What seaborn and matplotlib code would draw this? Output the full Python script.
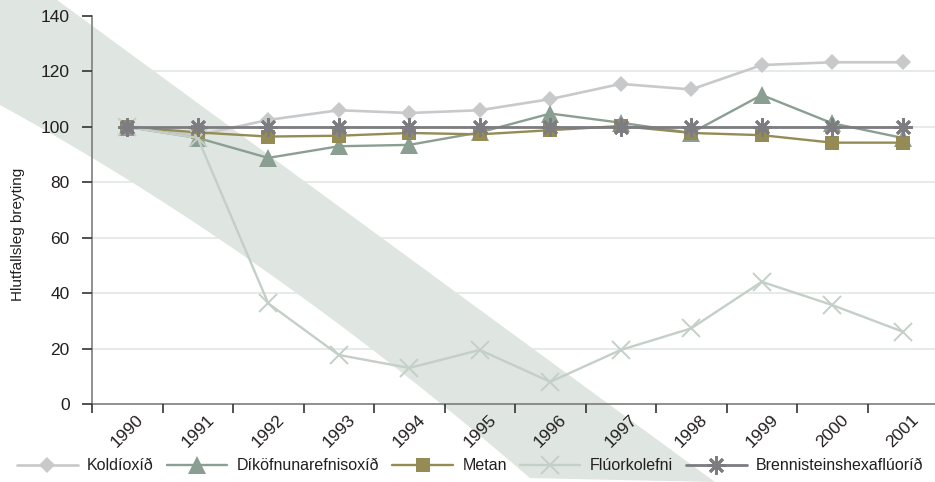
import numpy as np
import pandas as pd
import matplotlib
matplotlib.use("Agg")
import matplotlib.pyplot as plt
from matplotlib.patches import Polygon
import seaborn as sns

# ---- data -------------------------------------------------------------
years = [1990, 1991, 1992, 1993, 1994, 1995, 1996, 1997, 1998, 1999, 2000, 2001]
koldioxid = [100, 97, 102.5, 106, 105, 106, 110, 115.5, 113.5, 122.3, 123.3, 123.3]
dikofnunarefnisoxid = [100, 96, 88.8, 93, 93.5, 98, 104.8, 101.5, 97.8, 111.5, 101.3, 96]
metan = [100, 98, 96.5, 96.8, 97.8, 97.3, 98.8, 100.3, 97.8, 97, 94.3, 94.3]
fluorkolefni = [100, 96, 36.3, 17.7, 13, 19.5, 8, 19.5, 27.3, 44.1, 35.7, 26.1]
brennisteinshexafluorid = [100, 100, 100, 100, 100, 100, 100, 100, 100, 100, 100, 100]

series_names = ["Koldíoxíð", "Díköfnunarefnisoxíð", "Metan", "Flúorkolefni",
                "Brennisteinshexaflúoríð"]
y_ticks = [0, 20, 40, 60, 80, 100, 120, 140]
y_label = "Hlutfallsleg breyting"

df = pd.DataFrame({
    "ár": years * 5,
    "gildi": koldioxid + dikofnunarefnisoxid + metan + fluorkolefni + brennisteinshexafluorid,
    "flokkur": [n for n in series_names for _ in years],
})

# ---- styling ----------------------------------------------------------
sns.set_theme(style="white")
plt.rcParams["font.family"] = ["Liberation Sans", "DejaVu Sans"]
text_color = "#231f20"

styles = {
    "Koldíoxíð": dict(color="#c8c9cb", marker="D", ms=7.8, lw=1.9, mew=0),
    "Díköfnunarefnisoxíð": dict(color="#8a9f92", marker="^", ms=12.5, lw=1.7, mew=0),
    "Metan": dict(color="#958c55", marker="s", ms=10.5, lw=1.7, mew=0),
    "Flúorkolefni": dict(color="#c4cfc8", marker="x", ms=12.5, lw=1.7, mew=1.4),
    "Brennisteinshexaflúoríð": dict(color="#7c7c81", marker=(8, 2, 0), ms=13, lw=2.0, mew=2.0),
}

fig = plt.figure(figsize=(9.35, 4.82), dpi=100)
W, H = 935, 482
ax = fig.add_axes([92 / W, 1 - 404 / H, 846 / W, 388 / H])
ax.patch.set_alpha(0)

# diagonal background band (figure pixel coordinates, origin top-left):
# straight upper edge, gently curving lower edge
lower_x = np.linspace(0, 530, 30)
lower_y = 105 + 0.546 * lower_x + 0.000298 * lower_x ** 2
band_px = [(0, 0), (57, 0), (715, 482)] + list(zip(lower_x[::-1], lower_y[::-1]))
band = Polygon([(x / W, 1 - y / H) for x, y in band_px], closed=True,
               transform=fig.transFigure, facecolor="#dfe5e1", edgecolor="none",
               zorder=1, clip_on=False)
ax.add_patch(band)

# horizontal grid lines beneath the band
for v in y_ticks[1:-1]:
    ax.axhline(v, color="#e2e8e5", lw=1.2, zorder=0.5)

handles = []
for i, name in enumerate(series_names):
    st = styles[name]
    sub = df[df["flokkur"] == name]
    sns.lineplot(data=sub, x="ár", y="gildi", ax=ax, color=st["color"],
                 marker=st["marker"], markersize=st["ms"], linewidth=st["lw"],
                 markeredgecolor=st["color"], markerfacecolor=st["color"],
                 markeredgewidth=st["mew"], zorder=2 + 0.1 * i, label=name,
                 legend=False)
    handles.append(ax.lines[-1])

ax.set_xlim(years[0] - 0.5, years[-1] + 0.5)
ax.set_ylim(0, 140)
ax.set_yticks(y_ticks)
ax.set_xticks(years)
ax.set_xticklabels([str(y) for y in years], rotation=45, ha="center")
ax.set_xticks(np.arange(years[0] - 0.5, years[-1] + 0.6, 1), minor=True)

ax.tick_params(axis="x", which="major", length=0, pad=6, labelsize=12.5,
               labelcolor=text_color)
ax.tick_params(axis="x", which="minor", length=6.5, width=1.2, color="#333333",
               direction="out", bottom=True)
ax.tick_params(axis="y", which="major", length=7, width=1.2, color="#333333",
               direction="out", left=True, pad=9, labelsize=12.5,
               labelcolor=text_color)
ax.xaxis.set_zorder(3)
ax.yaxis.set_zorder(3)

for side in ["top", "right"]:
    ax.spines[side].set_visible(False)
for side in ["left", "bottom"]:
    ax.spines[side].set_color("#7d7d7d")
    ax.spines[side].set_linewidth(1.2)
    ax.spines[side].set_zorder(3)

ax.set_xlabel("")
ax.set_ylabel(y_label, fontsize=11, color=text_color)
ax.yaxis.set_label_coords(-0.079, 0.436)

fig.legend(handles, series_names, loc="center", bbox_to_anchor=(0.503, 1 - 466 / H),
           ncol=5, frameon=False, fontsize=11.5, handlelength=3.8,
           handletextpad=0.6, columnspacing=0.8, labelcolor=text_color)

fig.savefig("out.png", dpi=100)
